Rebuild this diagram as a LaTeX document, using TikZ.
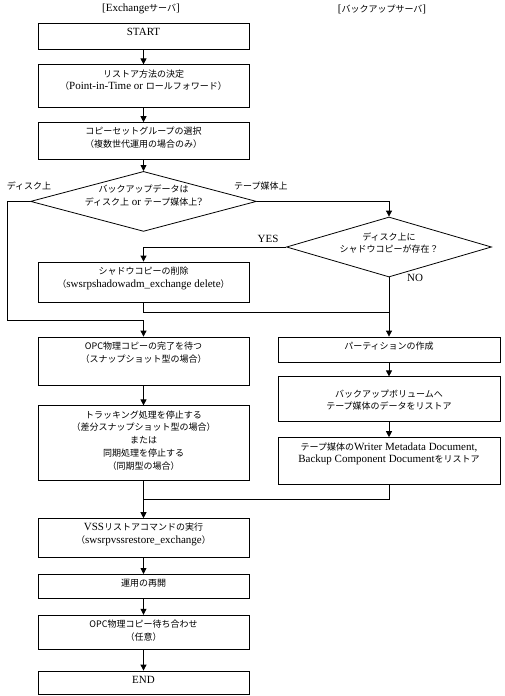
\documentclass[tikz,border=0pt]{standalone}
\usepackage{fontspec}
\setmainfont{Liberation Serif}
\newfontfamily\jpfont{Noto Sans CJK JP}
\newcommand{\ja}[1]{{\jpfont\fontsize{9}{12.8}\selectfont #1}}
\usetikzlibrary{positioning, arrows.meta, shapes.geometric}
\tikzset{
  box/.style={draw, line width=0.8pt, minimum width=211pt, inner sep=0pt},
  rbox/.style={box, minimum width=222pt},
  dia/.style={draw, line width=0.8pt, diamond, inner sep=0pt},
  txt/.style={font=\fontsize{11}{12.8}\selectfont, align=center, inner sep=0pt},
  intop/.style={label={[txt, anchor=north, yshift=-5pt]north:{#1}}},
  flow/.style={line width=0.8pt},
  >={Triangle[length=6pt, width=6pt]},
}
\begin{document}
\begin{tikzpicture}[x=1pt, y=-1pt, node distance=15pt]
  \useasboundingbox (0,0) rectangle (505,696);
  % column titles
  \node[txt] (hdl) at (141,9) {[Exchange\ja{サーバ}]};
  \node[txt] (hdr) at (382,9) {[\ja{バックアップサーバ}]};

  % Exchange server side
  \node[box, minimum height=26pt, intop={START}] (start) at (143.5,36) {};
  \node[box, minimum height=43pt, below=15pt of start,
        intop={\ja{リストア方法の決定}\\\ja{（}Point-in-Time or \ja{ロールフォワード）}}] (method) {};
  \node[box, minimum height=37pt, below=14pt of method,
        intop={\ja{コピーセットグループの選択}\\\ja{（複数世代運用の場合のみ）}}] (cset) {};
  \node[dia, minimum width=226pt, minimum height=60pt, below=11pt of cset,
        label={[txt, yshift=6pt]center:{\ja{バックアップデータは}\\\ja{ディスク上} or \ja{テープ媒体上}?}}] (media) {};
  \node[box, minimum height=40pt,
        intop={\ja{シャドウコピーの削除}\\\ja{（}swsrpshadowadm\_exchange delete\ja{）}}] (del) at (143.5,282) {};
  \node[box, minimum height=48pt,
        intop={\ja{OPC物理コピーの完了を待つ}\\\ja{（スナップショット型の場合）}}] (opc) at (143.5,361) {};
  \node[box, minimum height=75pt, below=20pt of opc,
        intop={\ja{トラッキング処理を停止する}\\\ja{（差分スナップショット型の場合）}\\\ja{または}\\\ja{同期処理を停止する}\\\ja{（同期型の場合）}}] (track) {};
  \node[box, minimum height=39pt, below=37pt of track,
        intop={VSS\ja{リストアコマンドの実行}\\\ja{（}swsrpvssrestore\_exchange\ja{）}}] (vss) {};
  \node[box, minimum height=24pt, below=16pt of vss, intop={\ja{運用の再開}}] (resume) {};
  \node[box, minimum height=34pt, below=16pt of resume,
        intop={\ja{OPC物理コピー待ち合わせ}\\\ja{（任意）}}] (wait) {};
  \node[box, minimum height=23pt, below=21pt of wait, intop={END}] (fin) {};

  % backup server side
  \node[dia, minimum width=205pt, minimum height=60pt,
        label={[txt, yshift=4pt]center:{\ja{ディスク上に}\\\ja{シャドウコピーが存在？}}}] (shadow) at (389,247) {};
  \node[rbox, minimum height=25pt, intop={\ja{パーティションの作成}}] (part) at (389,349.5) {};
  \node[rbox, minimum height=45pt, below=14pt of part,
        label={[txt, anchor=north, yshift=-13pt]north:{\ja{バックアップボリュームへ}\\\ja{テープ媒体のデータをリストア}}}] (vol) {};
  \node[rbox, minimum height=47pt, below=15pt of vol,
        intop={\ja{テープ媒体の}Writer Metadata Document,\\Backup Component Document\ja{をリストア}}] (meta) {};

  % branch labels
  \node[txt] (disk) at (29,186) {\ja{ディスク上}};
  \node[txt, anchor=west] (tape) at (234,186) {\ja{テープ媒体上}};
  \node[txt] (yes) at (268,239) {YES};
  \node[txt] (no) at (415,278) {NO};

  \coordinate (lft) at (7,320);
  \coordinate (j1) at (389,312);
  \coordinate (j2) at (143.5,499);

  \draw[flow,->] (start) -- (method);
  \draw[flow,->] (method) -- (cset);
  \draw[flow,->] (cset) -- (media);
  \draw[flow,->] (media.west) -| (lft) -| (opc.north);
  \draw[flow,->] (media.east) -| (shadow.north);
  \draw[flow,->] (shadow.west) -| (del.north);
  \draw[flow,->] (shadow.south) -- (part.north);
  \draw[flow] (del.south) |- (j1);
  \draw[flow,->] (opc) -- (track);
  \draw[flow,->] (part) -- (vol);
  \draw[flow,->] (vol) -- (meta);
  \draw[flow] (meta.south) |- (j2);
  \draw[flow,->] (track) -- (vss);
  \draw[flow,->] (vss) -- (resume);
  \draw[flow,->] (resume) -- (wait);
  \draw[flow,->] (wait) -- (fin);
\end{tikzpicture}
\end{document}
